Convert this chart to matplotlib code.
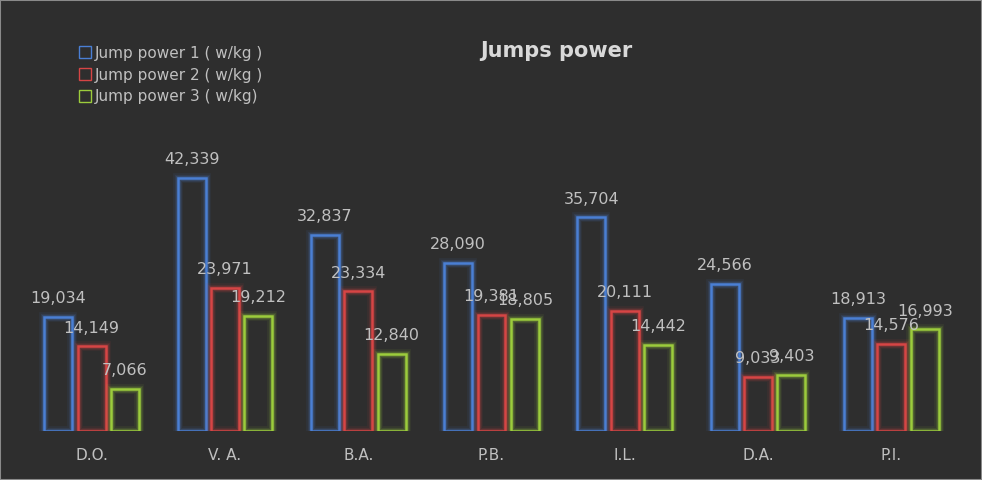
import matplotlib
matplotlib.use("Agg")
import matplotlib.pyplot as plt
import numpy as np
from matplotlib.patches import Rectangle
from matplotlib.lines import Line2D

categories = ["D.O.", "V. A.", "B.A.", "P.B.", "I.L.", "D.A.", "P.I."]
jp1 = [19.034, 42.339, 32.837, 28.090, 35.704, 24.566, 18.913]
jp2 = [14.149, 23.971, 23.334, 19.381, 20.111, 9.033, 14.576]
jp3 = [7.066, 19.212, 12.840, 18.805, 14.442, 9.403, 16.993]
series_names = ["Jump power 1 ( w/kg )", "Jump power 2 ( w/kg )", "Jump power 3 ( w/kg)"]
colors = ["#4a7fd4", "#d64545", "#9ccc3c"]

W, H = 982, 480
fig = plt.figure(figsize=(W/100, H/100), dpi=100)
bg = "#2e2e2e"
fig.patch.set_facecolor(bg)
fig.patches.append(Rectangle((0, 0), 1, 1, transform=fig.transFigure, fill=False,
                             edgecolor="#8a8a8a", linewidth=1.5))
ax = fig.add_axes([25/W, (H-431)/H, 933/W, 299/H])
ax.set_facecolor(bg)
ax.set_ylim(0, 50)
x = np.arange(len(categories))
ax.set_xlim(-0.5, len(categories)-0.5)
bw = 0.21
offsets = [-0.25, 0, 0.25]
for vals, col, off in zip([jp1, jp2, jp3], colors, offsets):
    for lw, a in [(7, 0.08), (5, 0.12), (3.5, 0.2)]:
        ax.bar(x+off, vals, bw, facecolor="none", edgecolor=col, linewidth=lw, alpha=a)
    ax.bar(x+off, vals, bw, facecolor="none", edgecolor=col, linewidth=1.8)
    for xi, v in zip(x+off, vals):
        ax.text(xi, v+1.8, f"{v:.3f}".replace(".", ","), ha="center", va="bottom",
                color="#c0c0c0", fontsize=11.5)
for s in ax.spines.values():
    s.set_visible(False)
ax.set_yticks([])
ax.set_xticks(x)
ax.set_xticklabels(categories, color="#c0c0c0", fontsize=11)
ax.tick_params(axis="x", length=0, pad=12)
fig.text(556/W, 1-51/H, "Jumps power", ha="center", va="center", color="#d9d9d9",
         fontsize=15, fontweight="bold")
handles = [Line2D([], [], marker="s", linestyle="none", markerfacecolor="none",
                  markeredgecolor=c, markersize=8) for c in colors]
leg = fig.legend(handles, series_names, loc="upper left", bbox_to_anchor=(64/W, 1-32/H),
                 frameon=False, labelcolor="#c0c0c0", fontsize=11, handletextpad=0.1,
                 labelspacing=0.45, handlelength=1)
fig.savefig("out.png", dpi=100, facecolor=bg)
